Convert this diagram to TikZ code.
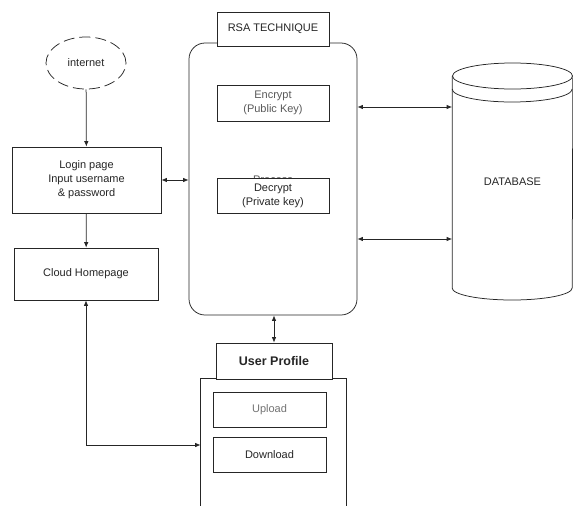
\documentclass[tikz,border=0pt]{standalone}
\usepackage{fontspec}
\setmainfont{Liberation Sans}
\usetikzlibrary{arrows.meta}
\usetikzlibrary{shapes.geometric}
\usetikzlibrary{positioning}

\tikzset{
  box/.style={shape=rectangle, draw, inner sep=0pt, fill=white,
    text=black!85, align=center},
  flow/.style={-{Latex[length=5.5pt,width=4.5pt]}},
  biflow/.style={{Latex[length=5.5pt,width=4.5pt]}-{Latex[length=5.5pt,width=4.5pt]}}
}

\begin{document}
\begin{tikzpicture}[x=1pt, y=-1pt,
    line width=0.75pt,
    draw=black!85,
    font=\fontsize{11}{14}\selectfont]
    \useasboundingbox (0,0) rectangle (573,506);

    \node[name=internet,
      shape=ellipse,
      draw,
      dash pattern=on 11pt off 5pt,
      minimum width=80pt,
      minimum height=52pt,
      text=black!85] at (86,63) {internet};

    \node[name=login,
      box,
      minimum width=149pt,
      minimum height=66pt] at (86.5,180) {Login page\\Input username\\\& password};

    \node[name=cloud,
      box,
      minimum width=144pt,
      minimum height=52pt] at (86,274) {Cloud Homepage};

    % RSA block
    \node[name=rsa,
      box,
      rounded corners=16pt,
      minimum width=168pt,
      minimum height=272pt] at (273,179) {};

    \node[name=rsatitle,
      box,
      minimum width=112pt,
      minimum height=34pt] at (273,29) {RSA TECHNIQUE};

    \node[name=encrypt,
      box,
      minimum width=112pt,
      minimum height=36pt,
      text=black!65] at (273,103) {Encrypt\\(Public Key)};

    \begin{scope}
      \clip (200,160) rectangle (346,178);
      \node[name=process, text=black!65] at (273,179.5) {Process};
    \end{scope}

    \node[name=decrypt,
      box,
      minimum width=112pt,
      minimum height=35pt] at (273,195.5) {Decrypt\\(Private key)};

    % database
    \node[name=db, minimum width=120pt, minimum height=224pt,
      text=black!85] at (512.5,182) {DATABASE};
    \draw (db.west |- 0,76) -- (db.west |- 0,288)
      arc[start angle=180, end angle=360, x radius=60pt, y radius=12pt]
      -- (db.east |- 0,76);
    \draw (512.5,76) ellipse [x radius=60pt, y radius=13pt];
    \draw (db.west |- 0,89)
      arc[start angle=180, end angle=360, x radius=60pt, y radius=13pt];
    \coordinate (dbtop) at (db.west |- 0,107);
    \coordinate (dbbot) at (db.west |- 0,239);

    % user profile
    \node[name=panel,
      minimum width=145pt,
      minimum height=132pt] at (273.5,445) {};
    \draw (panel.south west) |- (panel.north east) -- (panel.south east);

    \node[name=profile,
      box,
      minimum width=116pt,
      minimum height=36pt,
      font=\fontsize{12.5}{14}\selectfont\bfseries] at (274,361) {User Profile};

    \node[name=upload,
      box,
      minimum width=113pt,
      minimum height=35pt,
      text=black!55] at (269.5,409.5) {Upload};

    \node[name=download,
      box,
      minimum width=113pt,
      minimum height=35pt] at (269.5,454.5) {Download};

    \path (internet) edge[flow] (login);
    \path (login) edge[flow] (cloud);
    \path (login.east) edge[biflow] (login.east -| rsa.west);
    \path (rsa.east |- dbtop) edge[biflow] (dbtop);
    \path (rsa.east |- dbbot) edge[biflow] (dbbot);
    \path (rsa.south -| profile.north) edge[biflow] (profile.north);
    \draw[biflow] (cloud.south) |- (panel.west);
  \end{tikzpicture}
\end{document}
